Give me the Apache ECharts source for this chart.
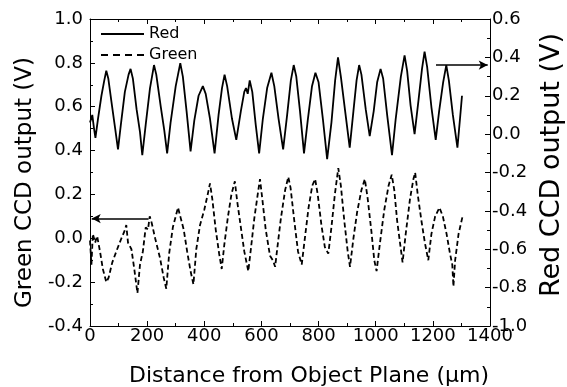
<!DOCTYPE html>
<html>
<head>
<meta charset="utf-8">
<script src="https://cdn.jsdelivr.net/npm/echarts@6/dist/echarts.min.js"></script>
<style>html,body{margin:0;padding:0;background:#fff;}#c{width:567px;height:387px;}</style>
</head>
<body>
<div id="c"></div>
<script>
// Red CCD output (right axis, V) vs distance (µm)
const redData = [
[0,0.06],[8,0.10],[14,0.03],[19,-0.02],[28,0.08],[40,0.20],[50,0.28],[57,0.33],[64,0.29],[75,0.17],
[88,0.03],[98,-0.08],[108,0.05],[122,0.22],[135,0.31],[142,0.34],[150,0.29],[163,0.13],[175,0.01],[183,-0.11],
[195,0.05],[210,0.24],[224,0.36],[232,0.31],[248,0.14],[260,0.02],[270,-0.10],[282,0.06],[300,0.25],[316,0.37],
[325,0.30],[338,0.12],[352,-0.09],[365,0.07],[380,0.20],[395,0.25],[405,0.21],[420,0.08],[436,-0.10],[450,0.10],
[462,0.24],[471,0.31],[480,0.25],[497,0.08],[512,-0.03],[528,0.12],[540,0.22],[546,0.24],[552,0.21],[559,0.28],
[568,0.22],[580,0.05],[592,-0.10],[605,0.08],[620,0.24],[635,0.32],[645,0.25],[660,0.08],[676,-0.08],[690,0.10],
[703,0.28],[713,0.36],[722,0.30],[735,0.12],[749,-0.10],[762,0.07],[777,0.25],[789,0.32],[800,0.27],[815,0.08],
[830,-0.13],[845,0.06],[858,0.28],[868,0.40],[878,0.30],[893,0.12],[909,-0.07],[922,0.12],[933,0.28],[942,0.36],
[950,0.31],[965,0.13],[979,-0.01],[993,0.12],[1005,0.27],[1017,0.34],[1026,0.29],[1040,0.10],[1057,-0.11],[1070,0.08],
[1088,0.30],[1101,0.41],[1110,0.33],[1122,0.15],[1136,0.00],[1150,0.18],[1162,0.34],[1171,0.43],[1180,0.35],[1195,0.14],
[1210,-0.03],[1222,0.12],[1236,0.27],[1247,0.36],[1256,0.28],[1270,0.10],[1286,-0.07],[1295,0.08],[1302,0.20]
];
// Green CCD output (left axis, V)
const greenData = [
[0,-0.01],[5,-0.12],[10,0.02],[18,-0.02],[25,0.01],[35,-0.06],[45,-0.14],[57,-0.20],[65,-0.18],[78,-0.11],
[95,-0.05],[110,0.00],[120,0.03],[127,0.06],[133,-0.02],[145,-0.05],[155,-0.14],[166,-0.25],[175,-0.12],[185,-0.06],
[195,0.05],[203,0.04],[209,0.10],[216,0.07],[228,0.00],[245,-0.09],[258,-0.18],[267,-0.23],[277,-0.07],[290,0.05],
[300,0.10],[308,0.14],[316,0.10],[328,0.04],[340,-0.06],[352,-0.15],[362,-0.21],[372,-0.05],[385,0.06],[400,0.13],
[412,0.20],[420,0.25],[428,0.18],[440,0.04],[452,-0.07],[461,-0.14],[470,-0.03],[483,0.10],[495,0.20],[507,0.26],
[515,0.17],[528,0.05],[540,-0.06],[554,-0.15],[563,-0.05],[575,0.09],[587,0.20],[595,0.27],[603,0.18],[615,0.04],
[630,-0.08],[640,-0.10],[648,-0.13],[656,-0.04],[668,0.09],[683,0.22],[694,0.28],[702,0.23],[715,0.08],[728,-0.06],
[741,-0.12],[752,0.00],[765,0.14],[778,0.24],[788,0.27],[797,0.20],[810,0.06],[822,-0.04],[834,-0.07],[845,0.05],
[857,0.20],[869,0.32],[878,0.24],[890,0.08],[902,-0.06],[910,-0.13],[922,0.00],[935,0.12],[950,0.22],[962,0.27],
[972,0.18],[985,0.03],[995,-0.10],[1003,-0.15],[1015,-0.02],[1030,0.13],[1045,0.24],[1056,0.29],[1065,0.22],[1075,0.08],
[1086,-0.03],[1094,-0.11],[1105,0.02],[1120,0.18],[1132,0.27],[1138,0.30],[1147,0.20],[1160,0.08],[1172,-0.02],[1184,-0.10],
[1195,0.02],[1208,0.10],[1223,0.14],[1235,0.10],[1248,0.02],[1260,-0.07],[1268,-0.12],[1272,-0.22],[1278,-0.10],[1290,0.02],
[1304,0.10]
];
// Arrow annotations: [x start, x end, y]
const redArrow = [1211, 1392, 0.36];
const greenArrow = [205, 6, 0.09];

const xRange = [0, 1400, 200];
const leftRange = [-0.4, 1.0, 0.2];
const rightRange = [-1.0, 0.6, 0.2];
const legendNames = ['Red', 'Green'];

const FONT = 'DejaVu Sans';
const fmt = v => (Math.round(v * 10) / 10).toFixed(1);
const axisCommon = {
  axisLine: { show: true, onZero: false, lineStyle: { color: '#000', width: 1 } },
  axisTick: { show: true, inside: true, length: 5, lineStyle: { color: '#000' } },
  minorTick: { show: true, splitNumber: 2, length: 3, lineStyle: { color: '#000' } },
  splitLine: { show: false },
  minorSplitLine: { show: false }
};
const solidIcon = 'path://M0,0H43V2H0Z';
const dashIcon = 'path://M0,0H7V2H0Z M12,0H19V2H12Z M24,0H31V2H24Z M36,0H43V2H36Z';

const chart = echarts.init(document.getElementById('c'), null, { renderer: 'canvas' });
chart.setOption({
  animation: false,
  backgroundColor: '#fff',
  grid: { left: 90, right: 77, top: 19, bottom: 61, containLabel: false, outerBoundsMode: 'none' },
  legend: {
    left: 96, top: 21, orient: 'vertical', itemWidth: 43, itemHeight: 14, itemGap: 5,
    symbolKeepAspect: true,
    itemStyle: { color: '#000', borderWidth: 0 },
    textStyle: { fontFamily: FONT, fontSize: 16, color: '#000', lineHeight: 16 },
    data: [
      { name: legendNames[0], icon: solidIcon },
      { name: legendNames[1], icon: dashIcon }
    ]
  },
  xAxis: [
    Object.assign({}, axisCommon, {
      type: 'value', min: xRange[0], max: xRange[1], interval: xRange[2], position: 'bottom',
      axisLabel: { margin: 1, color: '#000', fontFamily: FONT, fontSize: 18, formatter: v => String(v) },
      name: 'Distance from Object Plane (\u03bcm)', nameLocation: 'middle', nameGap: 39,
      nameTextStyle: { fontFamily: FONT, fontSize: 22, color: '#000', padding: [0, 0, 0, 38] }
    }),
    Object.assign({}, axisCommon, {
      type: 'value', min: xRange[0], max: xRange[1], interval: xRange[2], position: 'top',
      axisLabel: { show: false }
    })
  ],
  yAxis: [
    Object.assign({}, axisCommon, {
      type: 'value', min: leftRange[0], max: leftRange[1], interval: leftRange[2], position: 'left',
      axisLabel: { margin: 7, color: '#000', fontFamily: FONT, fontSize: 18, formatter: fmt },
      name: 'Green CCD output (V)', nameLocation: 'middle', nameGap: 53,
      nameTextStyle: { fontFamily: FONT, fontSize: 23, color: '#000', padding: [0, 20, 0, 0] }
    }),
    Object.assign({}, axisCommon, {
      type: 'value', min: rightRange[0], max: rightRange[1], interval: rightRange[2], position: 'right',
      axisLabel: { margin: 2, color: '#000', fontFamily: FONT, fontSize: 18, formatter: fmt },
      name: 'Red CCD output (V)', nameLocation: 'middle', nameGap: 44,
      nameTextStyle: { fontFamily: FONT, fontSize: 27, color: '#000', padding: [0, 0, 0, 15] }
    })
  ],
  series: [
    {
      name: legendNames[0], type: 'line', xAxisIndex: 0, yAxisIndex: 1, data: redData,
      symbol: 'none', showSymbol: false, smooth: false,
      lineStyle: { color: '#000', width: 1.8, type: 'solid' },
      itemStyle: { color: '#000' },
      markLine: {
        silent: true, symbol: ['none', 'arrow'], symbolSize: [7, 9], label: { show: false },
        lineStyle: { color: '#000', width: 1.5, type: 'solid' },
        data: [[{ coord: [redArrow[0], redArrow[2]] }, { coord: [redArrow[1], redArrow[2]] }]]
      }
    },
    {
      name: legendNames[1], type: 'line', xAxisIndex: 0, yAxisIndex: 0, data: greenData,
      symbol: 'none', showSymbol: false, smooth: false,
      lineStyle: { color: '#000', width: 1.8, type: [5, 3] },
      itemStyle: { color: '#000' },
      markLine: {
        silent: true, symbol: ['none', 'arrow'], symbolSize: [7, 9], label: { show: false },
        lineStyle: { color: '#000', width: 1.5, type: 'solid' },
        data: [[{ coord: [greenArrow[0], greenArrow[2]] }, { coord: [greenArrow[1], greenArrow[2]] }]]
      }
    }
  ]
});
</script>
</body>
</html>
